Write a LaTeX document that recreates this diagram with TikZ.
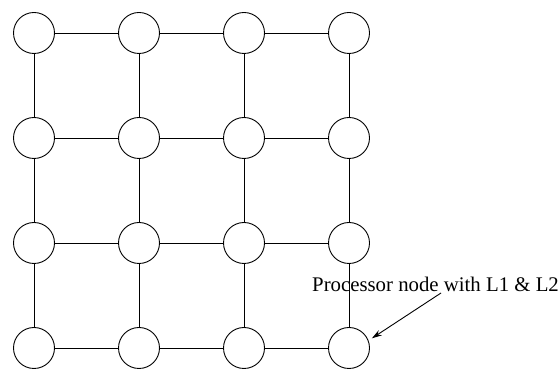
\documentclass[tikz,border=0pt]{standalone}
\usepackage{fontspec}
\setmainfont{Liberation Serif}
\usetikzlibrary{arrows.meta}
\begin{document}
\begin{tikzpicture}[x=1pt,y=1pt,
  proc/.style={circle,draw,line width=0.9pt,minimum size=41pt,inner sep=0pt},
  link/.style={line width=0.9pt},
  pointer/.style={line width=0.9pt,-{Stealth[length=10pt,width=6pt]}},
  caption/.style={inner sep=0pt,anchor=base west,font=\fontsize{20.8}{24}\selectfont}]
  \useasboundingbox (0,0) rectangle (560,369);
  % 4x4 mesh of processor nodes
  \foreach \i/\x in {1/34,2/139,3/244,4/349}
    \foreach \j/\y in {1/336,2/231,3/126,4/21}
      \node[proc] (n\j\i) at (\x,\y) {};
  % horizontal links
  \foreach \j in {1,2,3,4}{
    \draw[link] (n\j1) -- (n\j2);
    \draw[link] (n\j2) -- (n\j3);
    \draw[link] (n\j3) -- (n\j4);
  }
  % vertical links
  \foreach \i in {1,2,3,4}{
    \draw[link] (n1\i) -- (n2\i);
    \draw[link] (n2\i) -- (n3\i);
    \draw[link] (n3\i) -- (n4\i);
  }
  % caption and pointer
  \node[caption] (cap) at (312,77) {Processor node with L1 \& L2};
  \coordinate (tail) at (441,76);
  \draw[pointer,shorten >=4pt] (tail) -- (n44.21);
\end{tikzpicture}
\end{document}
